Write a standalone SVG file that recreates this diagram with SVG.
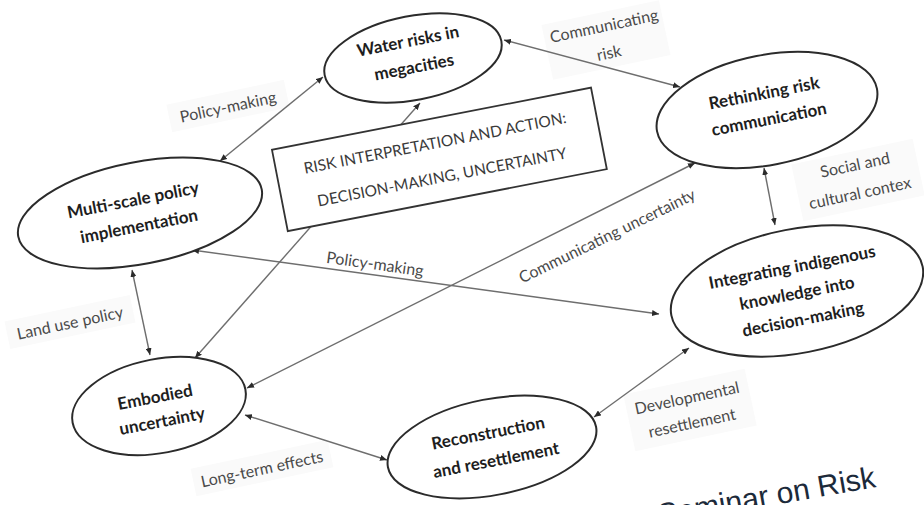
<svg xmlns="http://www.w3.org/2000/svg" width="924" height="505" viewBox="0 0 924 505">
<style>
.bg{fill:#ffffff}
.node ellipse{fill:#ffffff;stroke:#2b2b2b;stroke-width:2}
.nt{font-family:Lato,"Open Sans","Liberation Sans",sans-serif;font-weight:bold;font-size:17px;fill:#1e1e1e;text-anchor:middle}
.lbl{font-family:Lato,"Open Sans","Liberation Sans",sans-serif;font-size:16px;fill:#4a4a4a;text-anchor:middle}
.lbg{fill:#fafafa}
.bx{font-family:Lato,"Open Sans","Liberation Sans",sans-serif;font-size:15.5px;fill:#3a3a3a;text-anchor:middle}
.conn line{stroke:#6e6e6e;stroke-width:1.4;marker-start:url(#ah);marker-end:url(#ah)}
.title{font-family:"Liberation Sans",Arial,sans-serif;font-size:30px;fill:#1c2a3a}
</style>
<defs>
<marker id="ah" viewBox="0 0 7 6" refX="7" refY="3" markerWidth="7" markerHeight="6" markerUnits="userSpaceOnUse" orient="auto-start-reverse">
<path d="M0,0 L7,3 L0,6 z" fill="#2b2b2b"/>
</marker>
</defs>
<rect class="bg" x="0" y="0" width="924" height="505"/>

<g id="label-backgrounds">
<rect class="lbg" transform="translate(228,106) rotate(-12)" x="-60" y="-14" width="120" height="28"/>
<rect class="lbg" transform="translate(606,40) rotate(-12)" x="-60" y="-28" width="120" height="56"/>
<rect class="lbg" transform="translate(858,180) rotate(-12)" x="-62" y="-29" width="124" height="58"/>
<rect class="lbg" transform="translate(70,322) rotate(-12)" x="-64" y="-14" width="128" height="28"/>
<rect class="lbg" transform="translate(262,468) rotate(-12)" x="-70" y="-14" width="140" height="28"/>
<rect class="lbg" transform="translate(690,410) rotate(-12)" x="-62" y="-29" width="124" height="58"/>
</g>

<g id="connectors" class="conn">
<line x1="220" y1="161" x2="323" y2="77"/>
<line x1="504" y1="40" x2="680" y2="87"/>
<line x1="420" y1="103" x2="195" y2="358"/>
<line x1="695" y1="163" x2="247" y2="388"/>
<line x1="192" y1="250" x2="659" y2="314"/>
<line x1="764" y1="168" x2="775" y2="225"/>
<line x1="245" y1="415" x2="387" y2="460"/>
<line x1="594" y1="417" x2="689" y2="348"/>
<line x1="132" y1="270" x2="150" y2="355"/>
</g>

<g id="connector-labels">
<text class="lbl" transform="translate(228,107) rotate(-12)" dy="0.35em">Policy-making</text>
<text class="lbl" transform="translate(604,26) rotate(-12)" dy="0.35em">Communicating</text>
<text class="lbl" transform="translate(609,53) rotate(-12)" dy="0.35em">risk</text>
<text class="lbl" transform="translate(855,165) rotate(-12)" dy="0.35em">Social and</text>
<text class="lbl" transform="translate(860,193) rotate(-12)" dy="0.35em">cultural contex</text>
<text class="lbl" transform="translate(70,323) rotate(-12)" dy="0.35em">Land use policy</text>
<text class="lbl" transform="translate(262,469) rotate(-12)" dy="0.35em">Long-term effects</text>
<text class="lbl" transform="translate(687,398) rotate(-12)" dy="0.35em">Developmental</text>
<text class="lbl" transform="translate(692,423) rotate(-12)" dy="0.35em">resettlement</text>
<text class="lbl" transform="translate(607,236) rotate(-26)" dy="0.35em">Communicating uncertainty</text>
<text class="lbl" transform="translate(375,264) rotate(8)" dy="0.35em">Policy-making</text>
</g>

<g id="center-box">
<rect transform="translate(439,160) rotate(-11)" x="-162" y="-42" width="325" height="83" fill="#ffffff" stroke="#333333" stroke-width="1.8"/>
<text class="bx" transform="translate(435,143) rotate(-11)" dy="0.35em">RISK INTERPRETATION  AND ACTION:</text>
<text class="bx" transform="translate(442,177) rotate(-11)" dy="0.35em">DECISION-MAKING, UNCERTAINTY</text>
</g>

<g id="node-water" class="node">
<ellipse transform="translate(413,58) rotate(-11)" cx="0" cy="0" rx="90" ry="42"/>
<text class="nt" transform="translate(408,41) rotate(-11)" dy="0.35em">Water risks in</text>
<text class="nt" transform="translate(414,67) rotate(-11)" dy="0.35em">megacities</text>
</g>

<g id="node-rethinking" class="node">
<ellipse transform="translate(767,110) rotate(-11)" cx="0" cy="0" rx="112" ry="55"/>
<text class="nt" transform="translate(764,93) rotate(-11)" dy="0.35em">Rethinking risk</text>
<text class="nt" transform="translate(769,119) rotate(-11)" dy="0.35em">communication</text>
</g>

<g id="node-multiscale" class="node">
<ellipse transform="translate(140,213) rotate(-11)" cx="0" cy="0" rx="124" ry="51"/>
<text class="nt" transform="translate(133,200) rotate(-11)" dy="0.35em">Multi-scale policy</text>
<text class="nt" transform="translate(139,226) rotate(-11)" dy="0.35em">implementation</text>
</g>

<g id="node-embodied" class="node">
<ellipse transform="translate(159,406) rotate(-11)" cx="0" cy="0" rx="88" ry="47"/>
<text class="nt" transform="translate(155,397) rotate(-11)" dy="0.35em">Embodied</text>
<text class="nt" transform="translate(162,421) rotate(-11)" dy="0.35em">uncertainty</text>
</g>

<g id="node-integrating" class="node">
<ellipse transform="translate(797,291) rotate(-11)" cx="0" cy="0" rx="128" ry="62"/>
<text class="nt" transform="translate(792,267) rotate(-11)" dy="0.35em">Integrating indigenous</text>
<text class="nt" transform="translate(797,293) rotate(-11)" dy="0.35em">knowledge into</text>
<text class="nt" transform="translate(803,319) rotate(-11)" dy="0.35em">decision-making</text>
</g>

<g id="node-reconstruction" class="node">
<ellipse transform="translate(492,447) rotate(-11)" cx="0" cy="0" rx="106" ry="48"/>
<text class="nt" transform="translate(488,433) rotate(-11)" dy="0.35em">Reconstruction</text>
<text class="nt" transform="translate(496,460) rotate(-11)" dy="0.35em">and resettlement</text>
</g>

<text class="title" transform="translate(660,525) rotate(-10)">Seminar on Risk</text>
</svg>
